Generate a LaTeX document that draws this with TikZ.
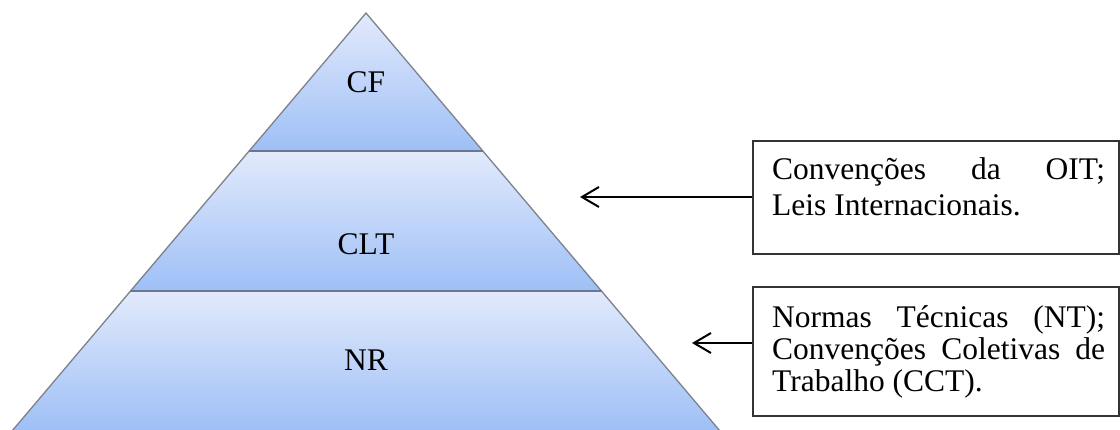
\documentclass[tikz,border=0pt]{standalone}
\usepackage{fontspec}
\setmainfont{Liberation Serif}
\usetikzlibrary{arrows.meta}
\definecolor{bandtop}{RGB}{226,234,252}
\definecolor{bandbot}{RGB}{158,191,246}
\definecolor{edgegray}{RGB}{125,130,140}
\definecolor{sepgray}{RGB}{105,120,142}
\tikzset{
  band/.style={top color=bandtop, bottom color=bandbot},
  sepline/.style={draw=sepgray, line width=2.5pt},
  sideline/.style={draw=edgegray, line width=1.3pt},
  lvl/.style={font=\fontsize{31.5}{36}\selectfont, anchor=base, inner sep=0pt},
  infobox/.style={draw=black!80, line width=1.5pt, anchor=north west, minimum width=366pt, inner sep=0pt},
  boxtext/.style={anchor=base west, inner sep=0pt, align=left},
  pointer/.style={line width=2pt, -{Straight Barb[length=17pt,width=20pt,line width=2pt]}}
}
\begin{document}
\begin{tikzpicture}[x=1pt,y=-1pt]
\useasboundingbox (0,0) rectangle (1120,429);
% pyramid bands
\coordinate (apex) at (366,13);
\coordinate (l1) at (249,151);
\coordinate (r1) at (483,151);
\coordinate (l2) at (130,291);
\coordinate (r2) at (602,291);
\coordinate (l3) at (12,431);
\coordinate (r3) at (720,431);
\shade[band] (apex) -- (r1) -- (l1) -- cycle;
\shade[band] (l1) -- (r1) -- (r2) -- (l2) -- cycle;
\shade[band] (l2) -- (r2) -- (r3) -- (l3) -- cycle;
\draw[sideline] (l3) -- (apex) -- (r3);
\draw[sepline] (l1) -- (r1);
\draw[sepline] (l2) -- (r2);
\node[lvl] (cf) at (366,92) {CF};
\node[lvl] (clt) at (366,254) {CLT};
\node[lvl] (nr) at (366,370) {NR};
% boxes
\node[infobox, minimum height=113pt] (b1) at (752,140) {};
\node[infobox, minimum height=129pt] (b2) at (752,286) {};
\node[boxtext] (t1) at (772,179) {\parbox[t]{333pt}{\fontsize{31.5}{36.5}\selectfont Convenções da OIT;\linebreak Leis Internacionais.}};
\node[boxtext] (t2) at (772,327) {\parbox[t]{333pt}{\fontsize{31.5}{32}\selectfont Normas Técnicas (NT);\linebreak Convenções Coletivas de\linebreak Trabalho (CCT).}};
% arrows
\coordinate (a1) at (580,197);
\coordinate (a2) at (692,343);
\draw[pointer] (b1.west |- a1) -- (a1);
\draw[pointer] (b2.west |- a2) -- (a2);
\end{tikzpicture}
\end{document}
